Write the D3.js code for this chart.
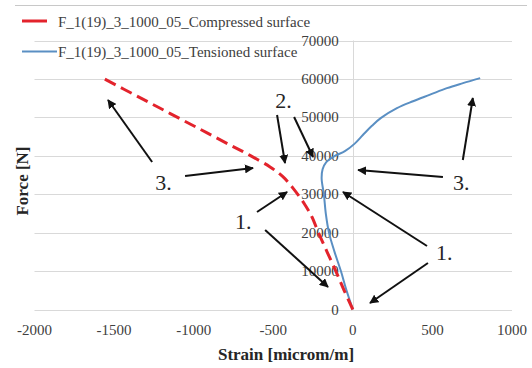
<!DOCTYPE html>
<head>
<meta charset="utf-8">
<style>
body { margin: 0; background: #fff; }
svg text { font-family: "Liberation Serif", "DejaVu Serif", "Times New Roman", Times, serif; }
.grid line { stroke: #d9d9d9; stroke-width: 1px; }
.tick-label { font-size: 15px; fill: #404040; }
.axis-title { font-size: 17px; font-weight: bold; fill: #262626; }
.legend text { font-size: 15px; fill: #404040; }
.note { font-size: 22px; fill: #262626; }
.arrow { stroke: #111; stroke-width: 2px; }
</style>
</head>
<body>
<svg width="532" height="368" font-family="Liberation Serif, DejaVu Serif, serif"></svg>
<script src="https://cdn.jsdelivr.net/npm/d3@7"></script>
<script>

// series: [strain, force]
var compressed = [[0,0],[-55,5000],[-107,10000],[-162,15000],[-216,20000],[-256,24000],
  [-300,27200],[-376,31600],[-438,34500],[-520,37100],[-646,40100],[-771,42800],
  [-950,46700],[-1150,51050],[-1350,55400],[-1570,60200]];
var tensioned = [[0,0],[-40,5000],[-75,10000],[-115,15000],[-150,20000],[-170,25000],
  [-182,30000],[-196,34000],[-190,36500],[-168,38300],[-115,39900],[-50,41200],
  [10,43100],[63,45400],[120,47800],[175,49800],[277,52400],[378,54200],[485,55900],
  [591,57600],[692,58900],[800,60200]];

var xTicks = [-2000, -1500, -1000, -500, 0, 500, 1000];
var yTicks = [0, 10000, 20000, 30000, 40000, 50000, 60000, 70000];
var seriesNames = ["F_1(19)_3_1000_05_Compressed surface", "F_1(19)_3_1000_05_Tensioned surface"];

// annotations in data units
var notes = [["3.", -1241, 31100], ["2.", -488, 52400], ["1.", -740, 20950], ["1.", 523, 12880], ["3.", 630, 31100]];
var arrows = [
  [-1261, 38380, -1538, 54510],
  [-1054, 34740, -627, 36820],
  [-476, 50610, -426, 38120],
  [-369, 50090, -250, 39680],
  [-602, 25370, -413, 30570],
  [-551, 20690, -156, 5860],
  [466, 16520, -62, 30570],
  [472, 12100, 108, 1690],
  [566, 34480, 33, 36300],
  [691, 38900, 754, 55030]
];

var svg = d3.select("svg");

var x = d3.scaleLinear().domain([-2000, 1000]).range([34.5, 512]);
var y = d3.scaleLinear().domain([0, 70000]).range([309.5, 40.5]);

svg.append("line").attr("x1", 15).attr("x2", 527).attr("y1", 5.5).attr("y2", 5.5)
    .attr("stroke", "#c8c8c8");

var grid = svg.append("g").attr("class", "grid");
grid.selectAll("line.h").data(yTicks).enter().append("line")
    .attr("x1", x(-2000)).attr("x2", x(1000))
    .attr("y1", function(d) { return Math.round(y(d)) + 0.5; })
    .attr("y2", function(d) { return Math.round(y(d)) + 0.5; });
grid.append("line")
    .attr("x1", Math.round(x(0)) + 0.5).attr("x2", Math.round(x(0)) + 0.5)
    .attr("y1", y(70000)).attr("y2", y(0));

svg.selectAll("text.xt").data(xTicks).enter().append("text")
    .attr("class", "tick-label")
    .attr("x", function(d) { return x(d); })
    .attr("y", 335)
    .attr("text-anchor", "middle")
    .text(function(d) { return d; });

svg.selectAll("text.yt").data(yTicks).enter().append("text")
    .attr("class", "tick-label")
    .attr("x", x(0) - 14)
    .attr("y", function(d) { return y(d) + 5; })
    .attr("text-anchor", "end")
    .text(function(d) { return d; });

svg.append("text").attr("class", "axis-title")
    .attr("x", 286).attr("y", 360).attr("text-anchor", "middle")
    .text("Strain [microm/m]");
svg.append("text").attr("class", "axis-title")
    .attr("transform", "translate(28,181) rotate(-90)")
    .attr("text-anchor", "middle")
    .text("Force [N]");

var line = d3.line()
    .x(function(d) { return x(d[0]); })
    .y(function(d) { return y(d[1]); })
    .curve(d3.curveCatmullRom);

svg.append("path").datum(tensioned)
    .attr("d", line)
    .attr("fill", "none").attr("stroke", "#5a8fc3").attr("stroke-width", 2);

svg.append("path").datum(compressed)
    .attr("d", line)
    .attr("fill", "none").attr("stroke", "#e3232c").attr("stroke-width", 3)
    .attr("stroke-dasharray", "12,6");

// arrows
svg.append("defs").append("marker")
    .attr("id", "head")
    .attr("viewBox", "0 0 10 10")
    .attr("refX", 9).attr("refY", 5)
    .attr("markerWidth", 4.5).attr("markerHeight", 4.5)
    .attr("orient", "auto")
  .append("path").attr("d", "M0,0L10,5L0,10z").attr("fill", "#111");

svg.selectAll("line.arrow").data(arrows).enter().append("line")
    .attr("class", "arrow")
    .attr("x1", function(d) { return x(d[0]); })
    .attr("y1", function(d) { return y(d[1]); })
    .attr("x2", function(d) { return x(d[2]); })
    .attr("y2", function(d) { return y(d[3]); })
    .attr("marker-end", "url(#head)");

svg.selectAll("text.note").data(notes).enter().append("text")
    .attr("class", "note")
    .attr("x", function(d) { return x(d[1]); })
    .attr("y", function(d) { return y(d[2]); })
    .text(function(d) { return d[0]; });

// legend
var legend = svg.append("g").attr("class", "legend");
legend.append("line").attr("x1", 22).attr("x2", 47).attr("y1", 21).attr("y2", 21)
    .attr("stroke", "#e3232c").attr("stroke-width", 3);
legend.append("line").attr("x1", 22).attr("x2", 57).attr("y1", 51.5).attr("y2", 51.5)
    .attr("stroke", "#5a8fc3").attr("stroke-width", 2);
legend.selectAll("text").data(seriesNames).enter().append("text")
    .attr("x", 58)
    .attr("y", function(d, i) { return i === 0 ? 27 : 57; })
    .text(function(d) { return d; });

</script>
</body>
